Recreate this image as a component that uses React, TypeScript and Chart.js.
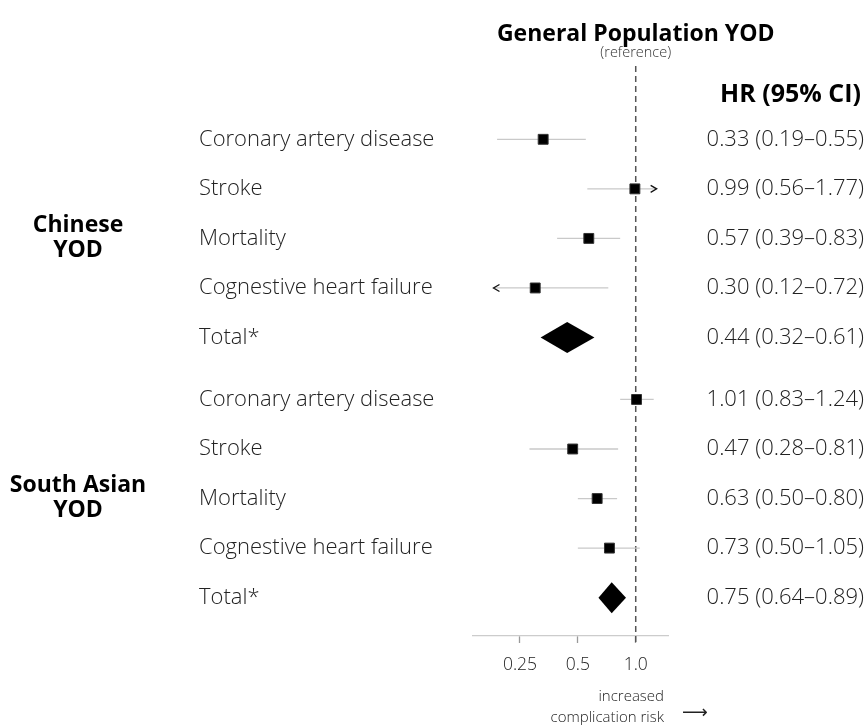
import React, { useEffect, useRef } from "react";
import { Chart, registerables } from "chart.js";

Chart.register(...registerables);

// ---------- data ----------
const groupLabels = [["Chinese", "YOD"], ["South Asian", "YOD"]];
const outcomes = [
  "Coronary artery disease",
  "Stroke",
  "Mortality",
  "Cognestive heart failure",
  "Total*",
  "Coronary artery disease",
  "Stroke",
  "Mortality",
  "Cognestive heart failure",
  "Total*",
];
const rowGroup = [0, 0, 0, 0, 0, 1, 1, 1, 1, 1];
const isTotal = [false, false, false, false, true, false, false, false, false, true];
const hr = [0.33, 0.99, 0.57, 0.3, 0.44, 1.01, 0.47, 0.63, 0.73, 0.75];
const ciLow = [0.19, 0.56, 0.39, 0.12, 0.32, 0.83, 0.28, 0.5, 0.5, 0.64];
const ciHigh = [0.55, 1.77, 0.83, 0.72, 0.61, 1.24, 0.81, 0.8, 1.05, 0.89];
const hrText = [
  "0.33 (0.19–0.55)",
  "0.99 (0.56–1.77)",
  "0.57 (0.39–0.83)",
  "0.30 (0.12–0.72)",
  "0.44 (0.32–0.61)",
  "1.01 (0.83–1.24)",
  "0.47 (0.28–0.81)",
  "0.63 (0.50–0.80)",
  "0.73 (0.50–1.05)",
  "0.75 (0.64–0.89)",
];
const xTickValues = [0.25, 0.5, 1.0];
const xTickLabels = ["0.25", "0.5", "1.0"];
const referenceValue = 1.0;
const xMin = 0.1424;
const xMax = 1.472;
const arrowMin = 0.182; // CI display limits (arrows beyond)
const arrowMax = 1.285;
const groupGap = 0.25;

const rowPos = outcomes.map((_, i) => i + rowGroup[i] * groupGap);

const LIGHT = '"Open Sans", "Noto Sans", sans-serif';

const overlayPlugin = {
  id: "forestOverlay",
  beforeDatasetsDraw(chart: any) {
    const { ctx, scales } = chart;
    const x = scales.x;
    const area = chart.chartArea;
    const px = x.getPixelForValue(referenceValue);
    ctx.save();
    ctx.strokeStyle = "#555";
    ctx.lineWidth = 1.5;
    ctx.setLineDash([6, 4]);
    ctx.beginPath();
    ctx.moveTo(px, area.top + 2);
    ctx.lineTo(px, area.bottom + 7);
    ctx.stroke();
    ctx.restore();
  },
  afterDatasetsDraw(chart: any) {
    const { ctx, scales } = chart;
    const x = scales.x;
    const y = scales.y;
    ctx.save();
    // diamonds for totals
    outcomes.forEach((_, i) => {
      if (!isTotal[i]) return;
      const yc = y.getPixelForValue(rowPos[i]);
      const h = 15.5;
      ctx.fillStyle = "#000";
      ctx.beginPath();
      ctx.moveTo(x.getPixelForValue(ciLow[i]), yc);
      ctx.lineTo(x.getPixelForValue(hr[i]), yc - h);
      ctx.lineTo(x.getPixelForValue(ciHigh[i]), yc);
      ctx.lineTo(x.getPixelForValue(hr[i]), yc + h);
      ctx.closePath();
      ctx.fill();
    });
    // arrows for truncated CIs
    ctx.strokeStyle = "#111";
    ctx.lineWidth = 1.3;
    outcomes.forEach((_, i) => {
      if (isTotal[i]) return;
      const yc = y.getPixelForValue(rowPos[i]);
      if (ciHigh[i] > arrowMax) {
        const tip = x.getPixelForValue(arrowMax);
        ctx.beginPath();
        ctx.moveTo(tip - 6, yc - 3.5);
        ctx.lineTo(tip, yc);
        ctx.lineTo(tip - 6, yc + 3.5);
        ctx.stroke();
      }
      if (ciLow[i] < arrowMin) {
        const tip = x.getPixelForValue(arrowMin);
        ctx.beginPath();
        ctx.moveTo(tip + 6, yc - 3.5);
        ctx.lineTo(tip, yc);
        ctx.lineTo(tip + 6, yc + 3.5);
        ctx.stroke();
      }
    });
    ctx.restore();
  },
  afterDraw(chart: any) {
    const { ctx, scales } = chart;
    const x = scales.x;
    const y = scales.y;
    const refPx = x.getPixelForValue(referenceValue);
    ctx.save();
    ctx.textBaseline = "middle";
    // headers
    ctx.fillStyle = "#000";
    ctx.textAlign = "center";
    ctx.font = `bold 23px ${LIGHT}`;
    ctx.fillText("General Population YOD", refPx, 34);
    ctx.font = `300 14.5px ${LIGHT}`;
    ctx.fillStyle = "#333";
    ctx.fillText("(reference)", refPx, 53);
    ctx.fillStyle = "#000";
    ctx.textAlign = "right";
    ctx.font = `bold 25px ${LIGHT}`;
    ctx.fillText("HR (95% CI)", 861, 95);
    // outcome labels + HR text
    outcomes.forEach((lab, i) => {
      const yc = y.getPixelForValue(rowPos[i]);
      ctx.font = `300 22px ${LIGHT}`;
      ctx.fillStyle = "#222";
      ctx.textAlign = "left";
      ctx.fillText(lab, 199, yc);
      ctx.textAlign = "right";
      ctx.fillText(hrText[i], 864, yc);
    });
    // group labels
    groupLabels.forEach((lines, g) => {
      const rows = rowPos.filter((_, i) => rowGroup[i] === g);
      const mid = y.getPixelForValue((rows[0] + rows[rows.length - 1]) / 2);
      ctx.font = `bold 23px ${LIGHT}`;
      ctx.fillStyle = "#000";
      ctx.textAlign = "center";
      ctx.fillText(lines[0], 78, mid - 13);
      ctx.fillText(lines[1], 78, mid + 12);
    });
    // bottom note
    ctx.font = `300 15px ${LIGHT}`;
    ctx.fillStyle = "#222";
    ctx.textAlign = "right";
    ctx.fillText("increased", 664, 697);
    ctx.fillText("complication risk", 664, 718);
    ctx.textAlign = "left";
    ctx.font = `18px "DejaVu Sans", sans-serif`;
    ctx.fillText("⟶", 682, 713);
    ctx.restore();
  },
};

export default function App() {
  const ref = useRef<HTMLCanvasElement | null>(null);
  useEffect(() => {
    if (!ref.current) return;
    const ciDatasets = outcomes
      .map((_, i) => i)
      .filter((i) => !isTotal[i])
      .map((i) => ({
        label: "ci" + i,
        data: [
          { x: Math.max(ciLow[i], arrowMin), y: rowPos[i] },
          { x: Math.min(ciHigh[i], arrowMax), y: rowPos[i] },
        ],
        showLine: true,
        borderColor: "#c9c9c9",
        borderWidth: 1.3,
        pointRadius: 0,
        order: 2,
      }));
    const pointData = outcomes
      .map((_, i) => i)
      .filter((i) => !isTotal[i])
      .map((i) => ({ x: hr[i], y: rowPos[i] }));
    const chart = new Chart(ref.current, {
      type: "scatter",
      data: {
        datasets: [
          ...ciDatasets,
          {
            label: "HR",
            data: pointData,
            pointStyle: "rect",
            pointRadius: 7,
            backgroundColor: "#000",
            borderColor: "#333",
            borderWidth: 1,
            order: 1,
          },
        ] as any,
      },
      options: {
        animation: false,
        responsive: false,
        events: [],
        layout: { padding: { left: 473, right: 198, top: 64, bottom: 0 } },
        plugins: { legend: { display: false }, tooltip: { enabled: false } },
        scales: {
          x: {
            type: "logarithmic",
            min: xMin,
            max: xMax,
            afterBuildTicks: (scale: any) => {
              scale.ticks = xTickValues.map((v) => ({ value: v }));
            },
            afterFit: (scale: any) => {
              scale.height = 92;
            },
            border: { display: true, color: "#cccccc", width: 1.3 },
            grid: {
              drawOnChartArea: false,
              drawTicks: true,
              tickLength: 7,
              tickColor: "#999",
              tickWidth: 1.3,
            },
            ticks: {
              autoSkip: false,
              maxRotation: 0,
              padding: 12,
              color: "#222",
              font: { family: LIGHT, size: 17.5, weight: "300" as any },
              callback: (v: any) => {
                const idx = xTickValues.indexOf(Number(v));
                return idx >= 0 ? xTickLabels[idx] : "";
              },
            },
          },
          y: {
            type: "linear",
            reverse: true,
            min: -1.52,
            max: 10.024,
            display: false,
          },
        },
      },
      plugins: [overlayPlugin],
    });
    return () => chart.destroy();
  }, []);
  return (
    <div style={{ position: "absolute", left: 0, top: 0, width: 866, height: 728 }}>
      <canvas ref={ref} width={866} height={728} style={{ display: "block" }} />
    </div>
  );
}
